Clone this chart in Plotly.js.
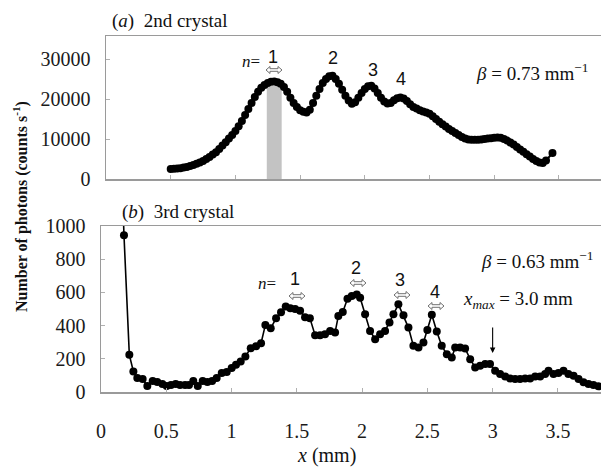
<!DOCTYPE html>
<html>
<head>
<meta charset="utf-8">
<script src="https://cdn.plot.ly/plotly-3.0.1.min.js"></script>
<style>html,body{margin:0;padding:0;background:#fff}#chart{width:601px;height:468px}</style>
</head>
<body>
<div id="chart"></div>
<script>
// ---- Data: (a) 2nd crystal ----
const xA = [0.500,0.525,0.550,0.575,0.600,0.625,0.650,0.675,0.700,0.725,0.750,0.775,0.800,0.825,0.850,0.875,0.900,0.925,0.950,0.975,
1.000,1.025,1.050,1.075,1.100,1.125,1.150,1.175,1.200,1.225,1.250,1.275,1.300,1.325,1.350,1.375,1.400,1.425,1.450,1.475,
1.500,1.525,1.550,1.575,1.600,1.625,1.650,1.675,1.700,1.725,1.750,1.775,1.800,1.825,1.850,1.875,1.900,1.925,1.950,1.975,
2.000,2.025,2.050,2.075,2.100,2.125,2.150,2.175,2.200,2.225,2.250,2.275,2.300,2.325,2.350,2.375,2.400,2.425,2.450,2.475,
2.500,2.525,2.550,2.575,2.600,2.625,2.650,2.675,2.700,2.725,2.750,2.775,2.800,2.825,2.850,2.875,2.900,2.925,2.950,2.975,
3.000,3.025,3.050,3.075,3.100,3.125,3.150,3.175,3.200,3.225,3.250,3.275,3.300,3.325,3.350,3.375,3.400,3.450];
const yA = [2500,2550,2600,2700,2850,3000,3250,3500,3800,4100,4500,5000,5500,6100,6700,7500,8400,9200,10100,11000,
12000,13200,14500,16000,17500,19000,20500,21800,22800,23500,24000,24300,24400,24200,23800,23000,21800,20300,19000,18000,
17200,16800,16600,17300,19000,20800,22500,24000,25000,25700,25800,25000,23800,22300,20800,19600,18800,19200,20300,21500,
22500,23200,23300,22600,21500,20300,19400,18900,19000,19700,20200,20400,20100,19500,18700,18000,17600,17200,16900,16600,
16300,15700,15000,14300,13700,13100,12500,12000,11500,11000,10500,10100,9900,9800,9800,9800,9900,10000,10100,10200,
10300,10400,10300,10000,9600,9100,8600,8000,7400,6800,6200,5600,5000,4500,4100,4000,4600,6500];
// highlighted band (n=1)
const bandX = [1.30];
const bandY = [23300];
const bandWidth = 0.115;

// ---- Data: (b) 3rd crystal ----
const xB = [0.165,0.176,0.217,0.248,0.278,0.319,0.355,0.396,0.431,0.470,0.503,0.536,0.572,0.605,0.644,0.674,0.707,0.741,0.779,0.815,
0.851,0.886,0.925,0.963,1.001,1.034,1.070,1.106,1.147,1.188,1.226,1.259,1.300,1.341,1.379,1.415,1.450,1.487,1.525,1.563,
1.600,1.640,1.678,1.716,1.755,1.793,1.818,1.852,1.888,1.921,1.959,1.985,2.023,2.061,2.100,2.138,2.176,2.210,2.240,2.278,
2.317,2.355,2.393,2.432,2.470,2.500,2.534,2.572,2.610,2.649,2.687,2.713,2.751,2.789,2.828,2.866,2.904,2.943,2.980,3.019,
3.057,3.096,3.134,3.172,3.210,3.249,3.287,3.326,3.364,3.402,3.428,3.466,3.504,3.543,3.580,3.620,3.658,3.696,3.734,3.772,3.810];
const yB = [1200,944,224,124,84,78,36,66,60,48,36,42,48,42,42,42,66,36,66,60,
66,84,114,120,144,164,184,214,264,276,294,404,384,444,480,515,505,500,490,450,
445,342,342,348,368,358,458,482,562,578,588,568,468,368,318,348,368,418,468,528,
462,388,278,268,298,374,465,365,278,228,208,268,268,262,198,148,158,168,168,128,
108,94,82,78,78,82,82,94,94,108,128,108,114,128,108,98,78,58,48,42,34];

// ---- Tick labels ----
const yTicksA = [0,10000,20000,30000];
const yTickTextA = ['0','10000','20000','30000'];
const yTicksB = [0,200,400,600,800,1000];
const yTickTextB = ['0','200','400','600','800','1000'];
const xTicks = [0,0.5,1,1.5,2,2.5,3,3.5];
const xTickText = ['0','0.5','1','1.5','2','2.5','3','3.5'];

// ---- Layout helpers ----
const W = 601, H = 468;
const px = v => v / W;
const py = v => 1 - v / H;
const SERIF = 'Liberation Serif';
const SANS = 'Liberation Sans';
const AX = '#9a9a9a';

const traces = [
  {type:'bar', x:bandX, y:bandY, width:bandWidth, marker:{color:'#c3c3c3', line:{width:0}}, xaxis:'x', yaxis:'y', hoverinfo:'skip'},
  {type:'scatter', mode:'lines+markers', x:xA, y:yA, xaxis:'x', yaxis:'y',
   line:{color:'#000', width:2}, marker:{color:'#000', size:8}},
  {type:'scatter', mode:'lines+markers', x:xB, y:yB, xaxis:'x2', yaxis:'y2',
   line:{color:'#000', width:1.6}, marker:{color:'#000', size:8}}
];

const axisCommon = {
  showgrid:false, zeroline:false, showline:true, linecolor:AX, linewidth:1.5,
  ticks:'inside', ticklen:4, tickcolor:'#b0b0b0', tickwidth:1,
  tickfont:{family:SERIF, size:20, color:'#1a1a1a'}
};

function ann(text, x, y, size, family, extra) {
  return Object.assign({text:text, x:px(x), y:py(y), xref:'paper', yref:'paper', showarrow:false,
    xanchor:'center', yanchor:'middle', font:{family:family||SERIF, size:size||19, color:'#111'}}, extra||{});
}

// hollow double-headed arrow outline, centred at pixel (cx, cy)
function dblArrow(cx, cy) {
  const pts = [[-8,0],[-4,-3.5],[-4,-1.3],[4,-1.3],[4,-3.5],[8,0],[4,3.5],[4,1.3],[-4,1.3],[-4,3.5]];
  const d = pts.map((p,i) => (i ? 'L' : 'M') + px(cx + p[0]).toFixed(5) + ',' + py(cy + p[1]).toFixed(5)).join(' ') + ' Z';
  return {type:'path', xref:'paper', yref:'paper', path:d, line:{color:'#707070', width:1}, fillcolor:'rgba(0,0,0,0)'};
}

const shapes = [
  dblArrow(274, 70),
  dblArrow(297, 296),
  dblArrow(358, 283),
  dblArrow(402, 295),
  dblArrow(436, 306)
];

const annotations = [
  ann('(<i>a</i>)  2nd crystal', 170, 21, 19),
  ann('(<i>b</i>)  3rd crystal', 178, 212, 19),
  ann('<i>n</i>=', 251, 62, 17),
  ann('1', 273, 57, 18, SANS),
  ann('2', 333, 58, 18, SANS),
  ann('3', 373, 70, 18, SANS),
  ann('4', 401, 79, 18, SANS),
  ann('<i>β</i> = 0.73 mm<sup>−1</sup>', 532, 72, 19),
  ann('<i>n</i>=', 267, 283, 17),
  ann('1', 295, 279, 18, SANS),
  ann('2', 356, 268, 18, SANS),
  ann('3', 400, 280, 18, SANS),
  ann('4', 435, 292, 18, SANS),
  ann('<i>β</i> = 0.63 mm<sup>−1</sup>', 537, 260, 19),
  ann('<i>x</i><sub><i>max</i></sub> = 3.0 mm', 518, 300, 19),
  {text:'', x:3.0, y:235, xref:'x2', yref:'y2', ax:0, ay:-27, showarrow:true,
   arrowhead:2, arrowsize:1, arrowwidth:1.1, arrowcolor:'#000'},
  ann('<b>Number of photons (counts s<sup>-1</sup>)</b>', 20, 207, 16, SERIF, {textangle:-90}),
  ann('<i>x</i> (mm)', 326, 455, 20)
];

const layout = {
  width:W, height:H, margin:{l:0, r:0, t:0, b:0},
  font:{family:SERIF},
  paper_bgcolor:'#fff', plot_bgcolor:'#fff', showlegend:false, hovermode:false,
  xaxis: Object.assign({}, axisCommon, {domain:[px(106),1], range:[0,3.825], anchor:'y',
    mirror:true, showticklabels:false, tickvals:xTicks}),
  yaxis: Object.assign({}, axisCommon, {domain:[py(179),py(36)], range:[0,35750], anchor:'x',
    tickvals:yTicksA, ticktext:yTickTextA, ticklabelstandoff:10}),
  xaxis2: Object.assign({}, axisCommon, {domain:[px(101),1], range:[0,3.83], anchor:'y2',
    mirror:true, tickvals:xTicks, ticktext:xTickText, ticklabelstandoff:20}),
  yaxis2: Object.assign({}, axisCommon, {domain:[py(392),py(226)], range:[0,1000], anchor:'x2',
    tickvals:yTicksB, ticktext:yTickTextB, ticklabelstandoff:10}),
  shapes: shapes,
  annotations: annotations
};

Plotly.newPlot('chart', traces, layout, {displayModeBar:false, staticPlot:true});
</script>
</body>
</html>
